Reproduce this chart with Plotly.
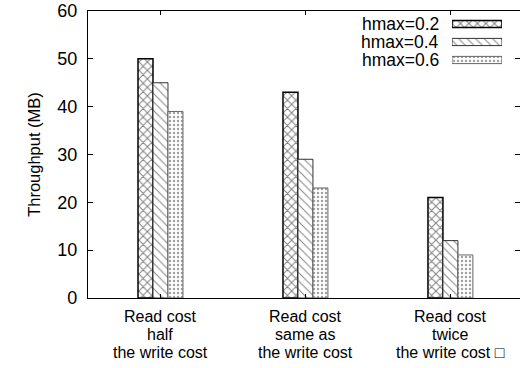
import plotly.graph_objects as go

# Data
categories = [
    ["Read cost", "half", "the write cost"],
    ["Read cost", "same as", "the write cost"],
    ["Read cost", "twice", "the write cost \u25a1"],
]
series_names = ["hmax=0.2", "hmax=0.4", "hmax=0.6"]
throughput = [
    [50, 43, 21],   # hmax=0.2
    [45, 29, 12],   # hmax=0.4
    [39, 23, 9],    # hmax=0.6
]
y_ticks = [0, 10, 20, 30, 40, 50, 60]

# Styles per series (fill pattern + outline)
styles = [
    dict(shape="x", size=6, solidity=0.3, fg="#000000", line="#000000", lw=1.5),
    dict(shape="\\", size=6, solidity=0.18, fg="#111111", line="#333333", lw=1.0),
    dict(shape=".", size=4, solidity=0.3, fg="#444444", line="#666666", lw=1.0),
]

FONT = "Liberation Sans, Arial, Helvetica, sans-serif"
W, H = 520, 368
ML, MR, MT, MB = 88, 0, 11, 70

fig = go.Figure()
x_idx = list(range(len(categories)))


def bar_marker(st):
    return dict(
        color="white",
        line=dict(color=st["line"], width=st["lw"]),
        pattern=dict(shape=st["shape"], size=st["size"], solidity=st["solidity"],
                     fgcolor=st["fg"], bgcolor="white", fillmode="overlay"),
    )


for name, vals, st in zip(series_names, throughput, styles):
    fig.add_trace(go.Bar(x=x_idx, y=vals, name=name, showlegend=False,
                         marker=bar_marker(st)))

# Key: patterned swatches on a small overlay axis, labels to their left
for i, (name, st) in enumerate(zip(series_names, styles)):
    fig.add_trace(go.Bar(
        x=[1], y=[i], base=[0], orientation="h", width=0.4,
        xaxis="x2", yaxis="y2", showlegend=False, hoverinfo="skip",
        marker=bar_marker(st),
    ))
    fig.add_annotation(
        x=0.817, xref="paper", y=i, yref="y2", text=name, showarrow=False,
        xanchor="right", yanchor="middle", font=dict(size=17.5, color="black", family=FONT),
    )

plot_w = W - ML - MR
plot_h = H - MT - MB


def px_x(px):
    return (px - ML) / plot_w


def px_y(py):
    return (H - MB - py) / plot_h


# Multi-line category labels under each group (one text per line, tight leading)
LABEL_SIZE = 16
for i, lines in enumerate(categories):
    for j, line in enumerate(lines):
        fig.add_annotation(
            x=i, xref="x", y=px_y(317 + 17.7 * j), yref="paper", text=line,
            showarrow=False, xanchor="center", yanchor="middle",
            font=dict(size=LABEL_SIZE, color="black", family=FONT),
        )

fig.update_layout(
    width=W, height=H,
    margin=dict(l=ML, r=MR, t=MT, b=MB),
    paper_bgcolor="white", plot_bgcolor="white",
    barmode="group", bargap=0.69, bargroupgap=0,
    font=dict(family=FONT, size=17, color="black"),
    xaxis=dict(
        range=[-0.5, 2.48], tickvals=x_idx, ticktext=["", "", ""],
        showgrid=False, zeroline=False, showline=True, linecolor="black", linewidth=1.2,
        mirror="ticks", ticks="inside", ticklen=4, tickcolor="black",
    ),
    yaxis=dict(
        range=[0, 60], tickvals=y_ticks, showgrid=False, zeroline=False,
        showline=True, linecolor="black", linewidth=1.2, mirror="ticks",
        ticks="inside", ticklen=5, tickcolor="black", ticklabelstandoff=6,
        tickfont=dict(size=18),
        title=dict(text="Throughput (MB)", font=dict(size=16.5), standoff=12),
    ),
    xaxis2=dict(domain=[px_x(452), px_x(502)], range=[0, 1], anchor="y2",
                visible=False, fixedrange=True),
    yaxis2=dict(domain=[px_y(69), px_y(15)], range=[2.5, -0.5], anchor="x2",
                visible=False, fixedrange=True),
)

fig.write_html("out.html")
